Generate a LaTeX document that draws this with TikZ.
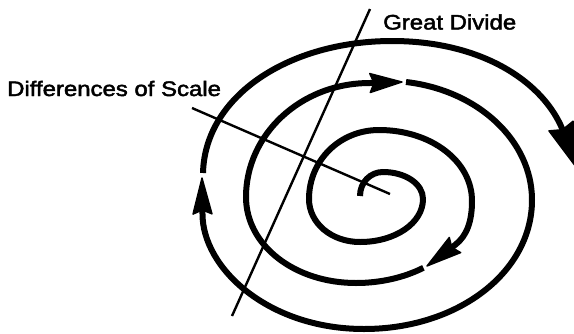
\documentclass[tikz,border=0pt]{standalone}
\usepackage{fontspec}
\newfontfamily\labfont[FakeStretch=1.14,FakeBold=2.2]{Liberation Sans}
\usetikzlibrary{calc}
\newcommand\arrowhd[3][9.5pt]{%
  \filldraw[line width=1.4pt,line join=round]
        ($(#3)!#1!90:(#2)$) -- (#2) -- ($(#3)!#1!-90:(#2)$)
        -- ($(#3)!4pt!(#2)$) -- cycle;}
\begin{document}
\begin{tikzpicture}[x=1pt,y=-1pt,
  spiral/.style={line width=6pt},
  guide/.style={line width=2.4pt},
  label/.style={inner sep=0pt,anchor=base west,
    font=\labfont\fontsize{21}{25}\selectfont}]
\useasboundingbox (0,0) rectangle (574,333);
% labels
\node[label] (gd) at (383,29.5) {Great Divide};
\node[label] (ds) at (7,96) {Differences of Scale};
% guide lines
\coordinate (g1) at (370,9);
\coordinate (g2) at (232,316);
\coordinate (d1) at (192,108);
\coordinate (d2) at (390,194);
\draw[guide] (g1) -- (g2);
\draw[guide] (d1) -- (d2);
% arrow tips and backs
\coordinate (t1) at (427,266);   \coordinate (b1) at (455,245);
\coordinate (t2) at (402,82);    \coordinate (b2) at (370,83);
\coordinate (t3) at (202,178);   \coordinate (b3) at (202.5,214);
\coordinate (t4) at (579,171);   \coordinate (b4) at (561,126);
% spiral, segment 1 (from centre to inner arrow)
\draw[spiral] (360,196) .. controls (360,182.6) and (370.1,172) .. (383,172)
  .. controls (405.4,172) and (423,183.9) .. (423,199)
  .. controls (423,223.1) and (395.3,242) .. (360,242)
  .. controls (331.4,242) and (309,223.1) .. (309,199)
  .. controls (309,160.4) and (339.8,130) .. (379,130)
  .. controls (431.1,130) and (472,161.2) .. (472,201)
  .. controls (472,221) and (467,236) .. (b1) -- ($(b1)!0.45!(t1)$);
\arrowhd{t1}{b1}
% segment 2 (to top arrow)
\draw[spiral] (423.4,267.8) .. controls (403.7,277.7) and (380.2,283) .. (356,283)
  .. controls (294.4,283) and (246,245.2) .. (246,197)
  .. controls (246,135) and (300,83) .. (b2) -- ($(b2)!0.45!(t2)$);
\arrowhd{t2}{b2}
% segment 3 (to left arrow)
\draw[spiral] (406,82) .. controls (478.3,90.4) and (532,140.8) .. (532,200)
  .. controls (532,272.2) and (458.1,329) .. (364,329)
  .. controls (268,329) and (202.5,268) .. (b3) -- ($(b3)!0.45!(t3)$);
\arrowhd{t3}{b3}
% segment 4 (outer ring, off the edge)
\draw[spiral] (203,173) .. controls (205,95) and (290,41) .. (392,41)
  .. controls (480,41) and (540,80) .. (b4) -- ($(b4)!0.4!(t4)$);
\arrowhd[13pt]{t4}{b4}
\end{tikzpicture}
\end{document}
